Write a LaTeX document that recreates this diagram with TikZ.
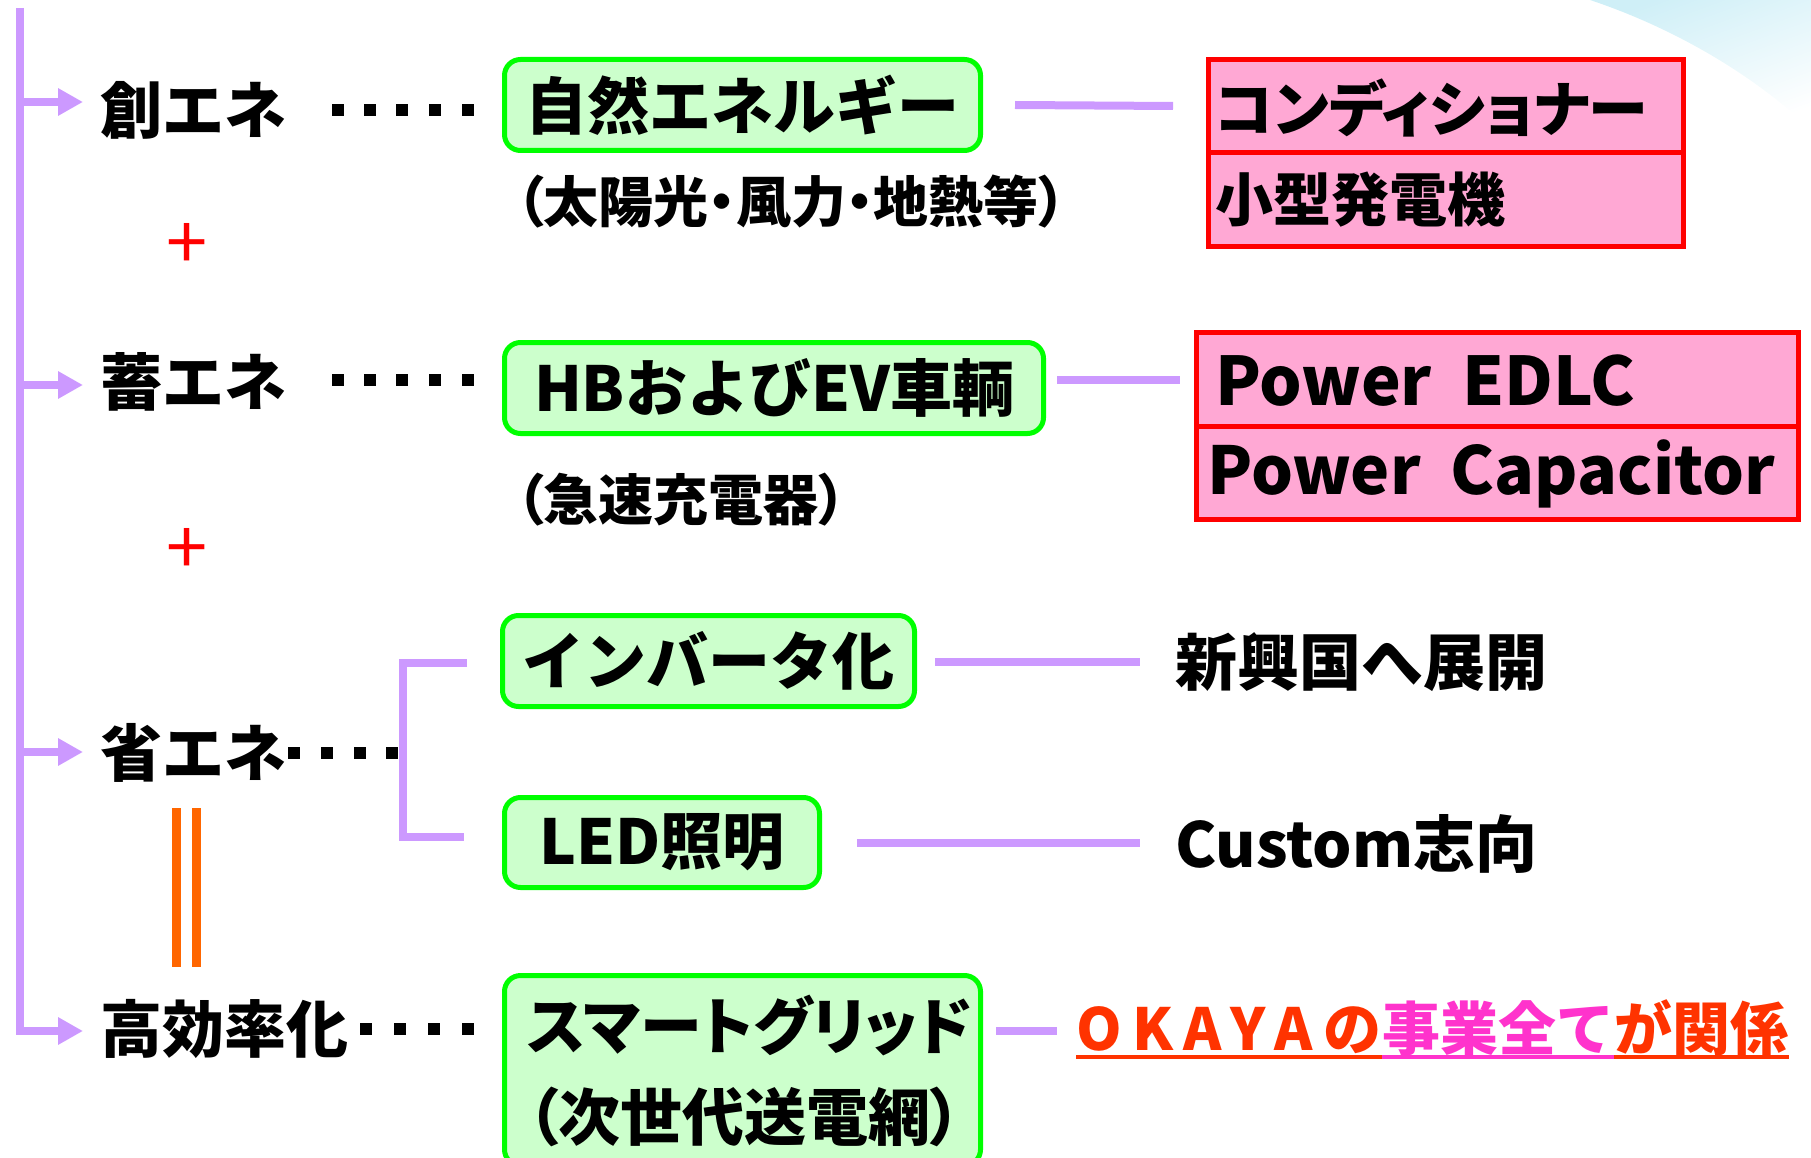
\documentclass[tikz,border=0pt]{standalone}
\usepackage{fontspec}
\newfontfamily\jp{Noto Sans CJK JP}
\newfontfamily\jpp{Noto Sans CJK JP}[RawFeature=+palt]
\usetikzlibrary{arrows.meta,calc}
\definecolor{lilac}{HTML}{CC99FF}
\definecolor{gfill}{HTML}{CCFFCC}
\definecolor{gline}{HTML}{00FF00}
\definecolor{pinkfill}{HTML}{FFA8D4}
\definecolor{redline}{HTML}{FF0000}
\definecolor{orangeline}{HTML}{FF6600}
\definecolor{okred}{HTML}{FF3300}
\definecolor{okmag}{HTML}{FF33CC}
\definecolor{swoosh}{HTML}{CFEFF7}
\tikzset{
  lil/.style={draw=lilac, line width=8pt},
  lilarrow/.style={lil, -{Triangle[length=25pt,width=26pt]}},
  gbox/.style={draw=gline, fill=gfill, line width=5pt, rounded corners=16pt, inner sep=0pt, anchor=north west, font=\jp\bfseries\fontsize{62}{84}\selectfont},
  rbox/.style={draw=redline, fill=pinkfill, line width=5pt, inner sep=0pt, anchor=north west},
  big/.style={font=\jp\bfseries\fontsize{62}{74}\selectfont, inner sep=0pt, anchor=west},
  rtext/.style={font=\jp\bfseries\fontsize{58}{70}\selectfont, inner sep=0pt, anchor=west},
  mid/.style={font=\jpp\bfseries\fontsize{55}{60}\selectfont, inner sep=0pt, anchor=west},
  plus/.style={font=\jp\fontsize{74}{80}\selectfont, text=redline, inner sep=0pt},
  dotsq/.style={fill=black},
  orange/.style={draw=orangeline, line width=9pt},
  oktext/.style={font=\jp\bfseries\fontsize{58}{70}\selectfont, inner sep=0pt, anchor=base west},
}
\begin{document}
\begin{tikzpicture}[x=1pt,y=-1pt]
\useasboundingbox (0,0) rectangle (1811,1158);
% background swoosh
\shade[top color=white, bottom color=swoosh, shading angle=200]
  (1590,0) .. controls (1680,30) and (1760,80) .. (1811,130) -- (1811,0) -- cycle;

% left labels
\node[big] (t1) at (100,110) {創エネ};
\node[big] (t2) at (100,382) {蓄エネ};
\node[big] (t3) at (100,753) {省エネ};
\node[big] (t4) at (100,1029) {高効率化};

% main lilac spine and arrows
\coordinate (top) at (20,8);
\coordinate (bot) at (20,1031);
\draw[lil] (top) -- (bot);
\draw[lilarrow] (20,102) -- ([xshift=-17pt]t1.west |- 0,102);
\draw[lilarrow] (20,385) -- ([xshift=-17pt]t2.west |- 0,385);
\draw[lilarrow] (20,752) -- ([xshift=-17pt]t3.west |- 0,752);
\draw[lilarrow] ([xshift=-4pt]bot) -- ([xshift=-17pt]t4.west |- bot);

% dotted leaders
\foreach \x in {338,370,402,435,468} {\fill[dotsq] (\x-6,104) rectangle (\x+6,116);}
\foreach \x in {338,370,402,435,468} {\fill[dotsq] (\x-6,374) rectangle (\x+6,386);}
\foreach \x in {294,327,360,392} {\fill[dotsq] (\x-6,747) rectangle (\x+6,759);}
\foreach \x in {366,400,434,468} {\fill[dotsq] (\x-6,1023) rectangle (\x+6,1035);}

% plus signs and equals
\node[plus] (p1) at (187,246) {+};
\node[plus] (p2) at (187,551) {+};
\draw[orange] (176,808) -- (176,967);
\draw[orange] (196,808) -- (196,967);

% green boxes
\node[gbox, minimum width=476pt, minimum height=91pt] (b1) at (502,57) {自然エネルギー};
\node[gbox, minimum width=539pt, minimum height=91pt] (b2) at (502,340) {HBおよびEV車輌};
\node[gbox, minimum width=412pt, minimum height=91pt] (b3) at (500,613) {インバータ化};
\node[gbox, minimum width=315pt, minimum height=90pt] (b4) at (502,795) {LED照明};
\node[gbox, minimum width=476pt, minimum height=190pt, align=left, text width=430pt,
      font=\jpp\bfseries\fontsize{62}{91}\selectfont] (b5) at (502,973) {スマートグリッド\\（次世代送電網）};

% captions under boxes
\node[mid] (c1) at (516,202) {（太陽光・風力・地熱等）};
\node[mid] (c2) at (516,500) {（急速充電器）};

% red boxes
\node[rbox, minimum width=475pt, minimum height=93pt] (r1a) at (1206,57) {};
\node[rbox, minimum width=475pt, minimum height=94pt] (r1b) at (1206,150) {};
\node[rtext, font=\jpp\bfseries\fontsize{60}{70}\selectfont] (r1at) at (1215,108) {コンディショナー};
\node[rtext] (r1bt) at (1215,200) {小型発電機};
\node[rbox, minimum width=602pt, minimum height=94pt] (r2a) at (1194,330) {};
\node[rbox, minimum width=602pt, minimum height=93pt] (r2b) at (1194,424) {};
\node[rtext, font=\jp\bfseries\fontsize{67}{70}\selectfont] (r2at) at (1215,381) {Power\ \ EDLC};
\node[rtext, font=\jp\bfseries\fontsize{66}{70}\selectfont] (r2bt) at (1207,474) {Power\ \ Capacitor};

% bracket from 省エネ
\coordinate (brT) at (467,663);
\coordinate (brB) at (464,837);
\draw[lil] (brT) -- (403,663) -- (403,837) -- (brB);

% right-hand texts
\node[big] (n3) at (1175,662) {新興国へ展開};
\node[big] (n4) at (1175,844) {Custom志向};

% OKAYA text
\node[oktext, text=okred] (ok1) at (1076,1050) {\addfontfeature{LetterSpace=18}OKAYAの};
\node[oktext, text=okmag] (ok2) at (ok1.base east) {事業全て};
\node[oktext, text=okred] (ok3) at (ok2.base east) {が関係};

% connectors
\draw[lil] ([xshift=32pt]b1.east) -- ([xshift=-33pt]r1a.west);
\draw[lil] ([xshift=11pt]b2.east |- r2a.west) -- ([xshift=-14pt]r2a.west);
\draw[lil] ([xshift=18pt]b3.east |- n3.west) -- ([xshift=-35pt]n3.west);
\draw[lil] ([xshift=35pt]b4.east) -- ([xshift=-35pt]b4.east -| n4.west);
\draw[lil] ([xshift=13pt]b5.east |- bot) -- ([xshift=-19pt]ok1.base west |- bot);

\draw[okred, line width=4pt] (ok1.base west |- 0,1057) -- (ok1.base east |- 0,1057);
\draw[okmag, line width=4pt] (ok2.base west |- 0,1057) -- (ok2.base east |- 0,1057);
\draw[okred, line width=4pt] (ok3.base west |- 0,1057) -- (ok3.base east |- 0,1057);
\end{tikzpicture}
\end{document}
